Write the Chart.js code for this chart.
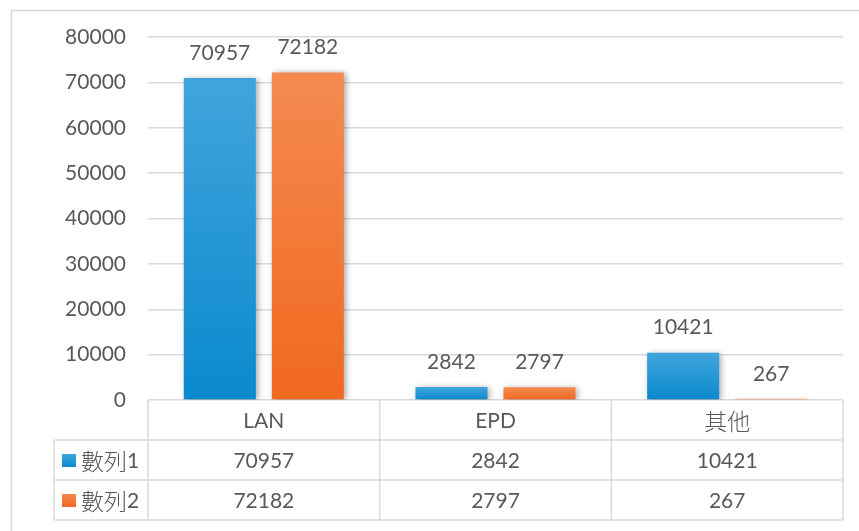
<!DOCTYPE html>
<html><head><meta charset="utf-8">
<script src="https://cdn.jsdelivr.net/npm/chart.js@4/dist/chart.umd.min.js"></script>
<style>html,body{margin:0;padding:0;background:#fff;overflow:hidden}#wrap{width:859px;height:531px;position:relative}</style>
</head><body><div id="wrap"><canvas id="c" width="859" height="531"></canvas></div>
<script>
const categories = ['LAN', 'EPD', '其他'];
const seriesNames = ['數列1', '數列2'];
const series1 = [70957, 2842, 10421];
const series2 = [72182, 2797, 267];
const yMin = 0, yMax = 80000, yStep = 10000;

const FONT = "Lato, 'Noto Sans CJK TC', sans-serif";
const LATIN_FONT = '21px ' + FONT;
const CJK_FONT = "300 23px 'Noto Sans CJK TC', sans-serif";
const TEXT = '#595959';
const LINE = '#D9D9D9';
const colorStops = [['#41A5DC', '#0A89CE'], ['#F58A51', '#F1691F']];

function barGradient(idx) {
  return function (ctx) {
    const chart = ctx.chart;
    if (!chart.chartArea || ctx.type !== 'data') return colorStops[idx][1];
    const y = chart.scales.y;
    const top = y.getPixelForValue(ctx.raw);
    const bot = y.getPixelForValue(0);
    if (!isFinite(top) || bot - top < 1) return colorStops[idx][1];
    const g = chart.ctx.createLinearGradient(0, top, 0, bot);
    g.addColorStop(0, colorStops[idx][0]);
    g.addColorStop(1, colorStops[idx][1]);
    return g;
  };
}

// draw mixed CJK / latin text; align 'left' or 'center'
function mixedText(c, str, x, y, align) {
  const parts = [];
  for (const ch of str) {
    const cjk = /[\u3000-\u9fff]/.test(ch);
    const last = parts[parts.length - 1];
    if (last && last.cjk === cjk) last.s += ch; else parts.push({ s: ch, cjk });
  }
  let total = 0;
  parts.forEach(p => { c.font = p.cjk ? CJK_FONT : LATIN_FONT; p.w = c.measureText(p.s).width; total += p.w; });
  let cx = align === 'center' ? x - total / 2 : x;
  c.textAlign = 'left';
  parts.forEach(p => { c.font = p.cjk ? CJK_FONT : LATIN_FONT; c.fillText(p.s, cx, y); cx += p.w; });
}

const decor = {
  id: 'decor',
  beforeDraw(chart) {
    const c = chart.ctx;
    c.save();
    c.strokeStyle = LINE; c.lineWidth = 1.5;
    c.strokeRect(11.5, 10.5, 900, 600);
    c.restore();
  },
  beforeDatasetsDraw(chart) {
    const c = chart.ctx;
    c.save();
    c.shadowColor = 'rgba(0,0,0,0.35)';
    c.shadowBlur = 6; c.shadowOffsetX = 2; c.shadowOffsetY = 1;
  },
  afterDatasetsDraw(chart) {
    const c = chart.ctx;
    c.restore();
    c.save();
    c.font = LATIN_FONT; c.fillStyle = TEXT;
    c.textAlign = 'center'; c.textBaseline = 'middle';
    chart.data.datasets.forEach((ds, di) => {
      chart.getDatasetMeta(di).data.forEach((el, i) => {
        c.fillText(String(ds.data[i]), el.x, el.y - 25);
      });
    });
    c.restore();
  },
  afterDraw(chart) {
    const c = chart.ctx, a = chart.chartArea, xs = chart.scales.x;
    const n = categories.length;
    const cw = (a.right - a.left) / n;
    const rowH = 40, top = a.bottom, legendLeft = 54;
    c.save();
    c.strokeStyle = LINE; c.lineWidth = 1.5;
    c.beginPath();
    for (let r = 1; r <= 3; r++) {
      c.moveTo(legendLeft, top + r * rowH);
      c.lineTo(a.right, top + r * rowH);
    }
    c.moveTo(legendLeft, top + rowH); c.lineTo(legendLeft, top + 3 * rowH);
    for (let i = 0; i < n; i++) {
      const xl = xs.getPixelForValue(i) - cw / 2;
      c.moveTo(xl, top); c.lineTo(xl, top + 3 * rowH);
    }
    c.moveTo(a.right, top); c.lineTo(a.right, top + 3 * rowH);
    c.stroke();

    c.fillStyle = TEXT; c.textBaseline = 'middle';
    categories.forEach((cat, i) => {
      const xc = xs.getPixelForValue(i);
      mixedText(c, cat, xc, top + rowH / 2 + 1, 'center');
      chart.data.datasets.forEach((ds, di) => {
        mixedText(c, String(ds.data[i]), xc, top + rowH * (di + 1) + rowH / 2 + 1, 'center');
      });
    });
    chart.data.datasets.forEach((ds, di) => {
      const yc = top + rowH * (di + 1) + rowH / 2;
      const g = c.createLinearGradient(0, yc - 6, 0, yc + 7);
      g.addColorStop(0, colorStops[di][0]); g.addColorStop(1, colorStops[di][1]);
      c.fillStyle = g;
      c.fillRect(62, yc - 6, 14, 13);
      c.fillStyle = TEXT;
      mixedText(c, ds.label, 81, yc + 1, 'left');
    });
    c.restore();
  }
};

new Chart(document.getElementById('c'), {
  type: 'bar',
  data: {
    labels: categories,
    datasets: [
      { label: seriesNames[0], data: series1, backgroundColor: barGradient(0) },
      { label: seriesNames[1], data: series2, backgroundColor: barGradient(1) }
    ]
  },
  options: {
    responsive: false, animation: false, devicePixelRatio: 1,
    layout: { padding: { left: 0, right: 16, top: 37, bottom: 131 } },
    datasets: { bar: { categoryPercentage: 0.76, barPercentage: 0.818 } },
    plugins: { legend: { display: false }, tooltip: { enabled: false } },
    scales: {
      x: { display: false },
      y: {
        min: yMin, max: yMax,
        afterFit(s) { s.width = 148; },
        border: { display: false },
        grid: { color: LINE, lineWidth: 1.5, drawTicks: false },
        ticks: { stepSize: yStep, padding: 22, color: TEXT, font: { family: FONT, size: 21 },
                 callback: (v) => String(v) }
      }
    }
  },
  plugins: [decor]
});
</script>
</body></html>
